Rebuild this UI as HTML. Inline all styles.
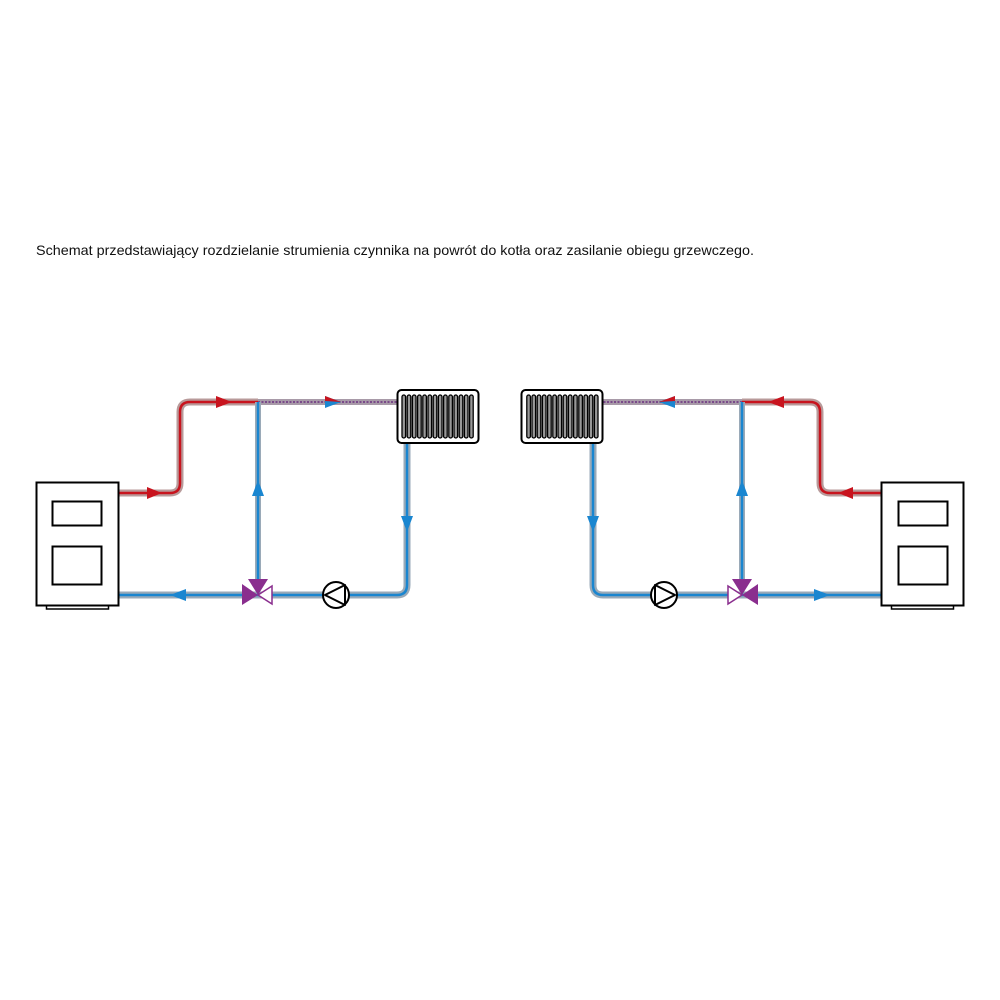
<!DOCTYPE html>
<html><head><meta charset="utf-8"><style>
html,body{margin:0;padding:0;background:#fff;}
svg{display:block}
</style></head><body>
<svg width="1000" height="1000" viewBox="0 0 1000 1000" xmlns="http://www.w3.org/2000/svg">
<defs>
<g id="half">
  <path d="M119,493 H170 Q180,493 180,483 V412 Q180,402 190,402 H258" fill="none" stroke="#b89a9a" stroke-width="7"/>
  <path d="M119,493 H170 Q180,493 180,483 V412 Q180,402 190,402 H258" fill="none" stroke="#c8141e" stroke-width="2.5"/>
  <path d="M258,402 H398" fill="none" stroke="#a89aa8" stroke-width="6"/>
  <path d="M258,402 H398" fill="none" stroke="#7a4a8a" stroke-width="2" stroke-dasharray="2,1.5"/>
  <path d="M258,402 V586" fill="none" stroke="#9aaab8" stroke-width="6"/>
  <path d="M258,402 V586" fill="none" stroke="#1a86d0" stroke-width="2.5"/>
  <path d="M407,443 V585 Q407,595 397,595 H119" fill="none" stroke="#9aaab8" stroke-width="7"/>
  <path d="M407,443 V585 Q407,595 397,595 H119" fill="none" stroke="#1a86d0" stroke-width="2.5"/>
  <polygon points="147,487 162,493 147,499" fill="#c8141e"/>
  <polygon points="216,396 232,402 216,408" fill="#c8141e"/>
  <polygon points="325,396 341,402 325,408" fill="#1a86d0"/>
  <polygon points="325,396 341,402 325,401" fill="#c8141e"/>
  <polygon points="252,496 258,480 264,496" fill="#1a86d0"/>
  <polygon points="401,516 407,532 413,516" fill="#1a86d0"/>
  <polygon points="186,589 170,595 186,601" fill="#1a86d0"/>
  <polygon points="242,584 258,595 242,605" fill="#8a2e8e"/>
  <polygon points="248,579 268,579 258,595" fill="#8a2e8e"/>
  <polygon points="272,586 258,595 272,604" fill="#fff" stroke="#8a2e8e" stroke-width="1.5"/>
  <circle cx="336" cy="595" r="13" fill="#fff" stroke="#000" stroke-width="2"/>
  <polygon points="325,595 345,585 345,605" fill="none" stroke="#000" stroke-width="2" stroke-linejoin="round"/>
  <rect x="397.5" y="390" width="81" height="53" rx="4" fill="#fff" stroke="#000" stroke-width="2"/>
  <g fill="#999" stroke="#000" stroke-width="1.3">
    <rect x="402" y="395" width="3.6" height="43" rx="1.8"/>
    <rect x="407.2" y="395" width="3.6" height="43" rx="1.8"/>
    <rect x="412.4" y="395" width="3.6" height="43" rx="1.8"/>
    <rect x="417.6" y="395" width="3.6" height="43" rx="1.8"/>
    <rect x="422.8" y="395" width="3.6" height="43" rx="1.8"/>
    <rect x="428" y="395" width="3.6" height="43" rx="1.8"/>
    <rect x="433.2" y="395" width="3.6" height="43" rx="1.8"/>
    <rect x="438.4" y="395" width="3.6" height="43" rx="1.8"/>
    <rect x="443.6" y="395" width="3.6" height="43" rx="1.8"/>
    <rect x="448.8" y="395" width="3.6" height="43" rx="1.8"/>
    <rect x="454" y="395" width="3.6" height="43" rx="1.8"/>
    <rect x="459.2" y="395" width="3.6" height="43" rx="1.8"/>
    <rect x="464.4" y="395" width="3.6" height="43" rx="1.8"/>
    <rect x="469.6" y="395" width="3.6" height="43" rx="1.8"/>
  </g>
  <rect x="46.5" y="604" width="62" height="5" fill="#fff" stroke="#000" stroke-width="1.5"/>
  <rect x="36.5" y="482.5" width="82" height="123" fill="#fff" stroke="#000" stroke-width="2"/>
  <rect x="52.5" y="501.5" width="49" height="24" fill="none" stroke="#000" stroke-width="2"/>
  <rect x="52.5" y="546.5" width="49" height="38" fill="none" stroke="#000" stroke-width="2"/>
</g>
</defs>
<text x="36" y="255" font-family="Liberation Sans, sans-serif" font-size="14" fill="#111" textLength="718" lengthAdjust="spacingAndGlyphs">Schemat przedstawiający rozdzielanie strumienia czynnika na powrót do kotła oraz zasilanie obiegu grzewczego.</text>
<use href="#half"/>
<use href="#half" transform="translate(1000,0) scale(-1,1)"/>
</svg>
</body></html>
